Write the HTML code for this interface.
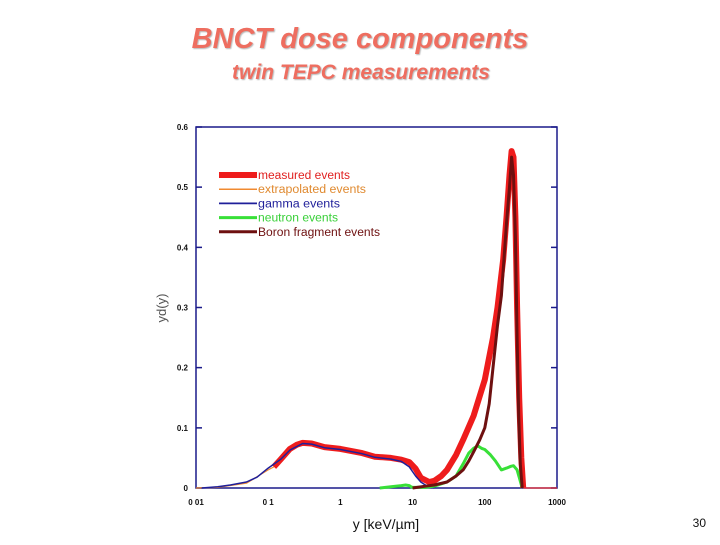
<!DOCTYPE html>
<html><head><meta charset="utf-8"><style>
body{margin:0;background:#fff;width:720px;height:540px;overflow:hidden;font-family:"Liberation Sans",sans-serif}
</style></head><body>
<svg width="720" height="540" viewBox="0 0 720 540" xmlns="http://www.w3.org/2000/svg" font-family="Liberation Sans, sans-serif">
<defs><filter id="sh"><feDropShadow dx="1" dy="1" stdDeviation="0.6" flood-color="#999" flood-opacity="0.7"/></filter></defs>
<text x="360" y="48" text-anchor="middle" font-size="29" font-weight="bold" font-style="italic" fill="#ee6e60" filter="url(#sh)">BNCT dose components</text>
<text x="361" y="79" text-anchor="middle" font-size="21" font-weight="bold" font-style="italic" fill="#ee6e60" filter="url(#sh)">twin TEPC measurements</text>
<g id="axes"></g>
<g id="series"></g>
<g id="legend"></g>
<text x="386" y="529" text-anchor="middle" font-size="14" fill="#111">y [keV/µm]</text>
<text transform="translate(166,308) rotate(-90)" text-anchor="middle" font-size="13" fill="#555">yd(y)</text>
<text x="706" y="527" text-anchor="end" font-size="12" fill="#111">30</text>
</svg>
<script>
const xTicks=[0.01,0.1,1,10,100,1000];
const xTickLabels=["0 01","0 1","1","10","100","1000"];
const yTicks=[0,0.1,0.2,0.3,0.4,0.5,0.6];
const yTickLabels=["0","0.1","0.2","0.3","0.4","0.5","0.6"];
const measuredX=[0.12,0.15,0.2,0.25,0.3,0.4,0.6,1,2,3,5,7,9,11,13,17,20,25,30,40,50,70,100,130,150,180,200,220,235,250,265,280,300,320,340];
const measuredY=[0.035,0.048,0.065,0.072,0.075,0.074,0.068,0.065,0.058,0.052,0.05,0.047,0.043,0.032,0.017,0.01,0.012,0.02,0.03,0.055,0.08,0.12,0.18,0.25,0.3,0.38,0.45,0.52,0.56,0.55,0.45,0.3,0.15,0.05,0];
const extrapX=[0.01,0.02,0.05,0.1,0.12];
const extrapY=[0,0.001,0.008,0.03,0.035];
const tailX=[340,500,1000];
const tailY=[0,0,0];
const gammaX=[0.012,0.02,0.03,0.05,0.07,0.1,0.15,0.2,0.3,0.4,0.6,1,2,3,5,7,9,11,13,15,18,20];
const gammaY=[0,0.002,0.005,0.01,0.018,0.033,0.048,0.063,0.074,0.073,0.067,0.064,0.057,0.051,0.048,0.044,0.035,0.02,0.01,0.005,0.001,0];
const neutronX=[3.5,5,7,8,9,9.5,10,15,20,30,40,50,60,70,80,90,100,120,140,170,200,230,250,280,300,330];
const neutronY=[0,0.002,0.004,0.005,0.004,0.002,0.001,0.001,0.003,0.01,0.02,0.04,0.058,0.066,0.07,0.066,0.064,0.055,0.045,0.03,0.033,0.036,0.037,0.03,0.018,0];
const boronX=[10,15,20,30,40,50,60,70,85,100,115,130,150,170,200,220,235,250,265,280,295,310,330];
const boronY=[0,0.003,0.005,0.01,0.02,0.03,0.045,0.06,0.08,0.1,0.14,0.2,0.27,0.32,0.44,0.5,0.55,0.52,0.42,0.25,0.12,0.04,0];
const NS='http://www.w3.org/2000/svg';
const L=196,R=557,T=127,B=488;
const xs=v=>L+(Math.log10(v)+2)/5*(R-L);
const ys=v=>B-v/0.6*(B-T);
function mk(tag,attrs,parent){const e=document.createElementNS(NS,tag);for(const k in attrs)e.setAttribute(k,attrs[k]);parent.appendChild(e);return e;}
const ax=document.getElementById('axes');
const frame=mk('rect',{x:L,y:T,width:R-L,height:B-T,fill:'none',stroke:'#1a1a8a','stroke-width':1.5},ax);


yTicks.forEach((v,i)=>{
 const t=mk('path',{d:`M${L},${ys(v)}h6M${R},${ys(v)}h-6`,stroke:'#1a1a8a','stroke-width':1.5},ax);
 
 
 const tx=mk('text',{x:L-8,y:ys(v)+3,'text-anchor':'end','font-size':8,'font-weight':'bold',fill:'#111'},ax);
 tx.textContent=yTickLabels[i];
 
 
});
xTicks.forEach((v,i)=>{
 const tx=mk('text',{x:xs(v),y:505,'text-anchor':'middle','font-size':8,'font-weight':'bold',fill:'#111'},ax);
 tx.textContent=xTickLabels[i];
 
 
});
const sg=document.getElementById('series');
function line(X,Y,color,w,name){
 const d=X.map((x,i)=>(i?'L':'M')+xs(x).toFixed(1)+','+ys(Y[i]).toFixed(1)).join('');
 const p=mk('path',{d:d,fill:'none',stroke:color,'stroke-width':w,'stroke-linejoin':'round'},sg);
 
 
}
line(measuredX,measuredY,'#ee1c1c',6,'measured-events-line');
line(extrapX,extrapY,'#f08a30',1.2,'extrapolated-events-line');
line(tailX,tailY,'#ee3030',1.2,'measured-tail-line');
line(gammaX,gammaY,'#1f1f9a',1.5,'gamma-events-line');
line(neutronX,neutronY,'#38e038',3,'neutron-events-line');
line(boronX,boronY,'#6e1010',3,'boron-fragment-events-line');
const lg=document.getElementById('legend');
const items=[["measured events","#ee1c1c",6,"#e02020",92],["extrapolated  events","#f08a30",1.5,"#e08a30",108],["gamma  events","#1f1f9a",1.8,"#1f1f9a",82],["neutron events","#38e038",3,"#38d038",80],["Boron fragment events","#6e1010",3,"#6e1010",122]];
items.forEach((it,i)=>{
 const y=175+i*14.2;
 const g=mk('g',{},lg);
 
 
 mk('line',{x1:219,x2:257,y1:y,y2:y,stroke:it[1],'stroke-width':it[2]},g);
 const t=mk('text',{x:258,y:y+4,'font-size':11.5,fill:it[3],textLength:it[4],lengthAdjust:'spacingAndGlyphs'},g);
 t.textContent=it[0];
});
</script>
</body></html>
